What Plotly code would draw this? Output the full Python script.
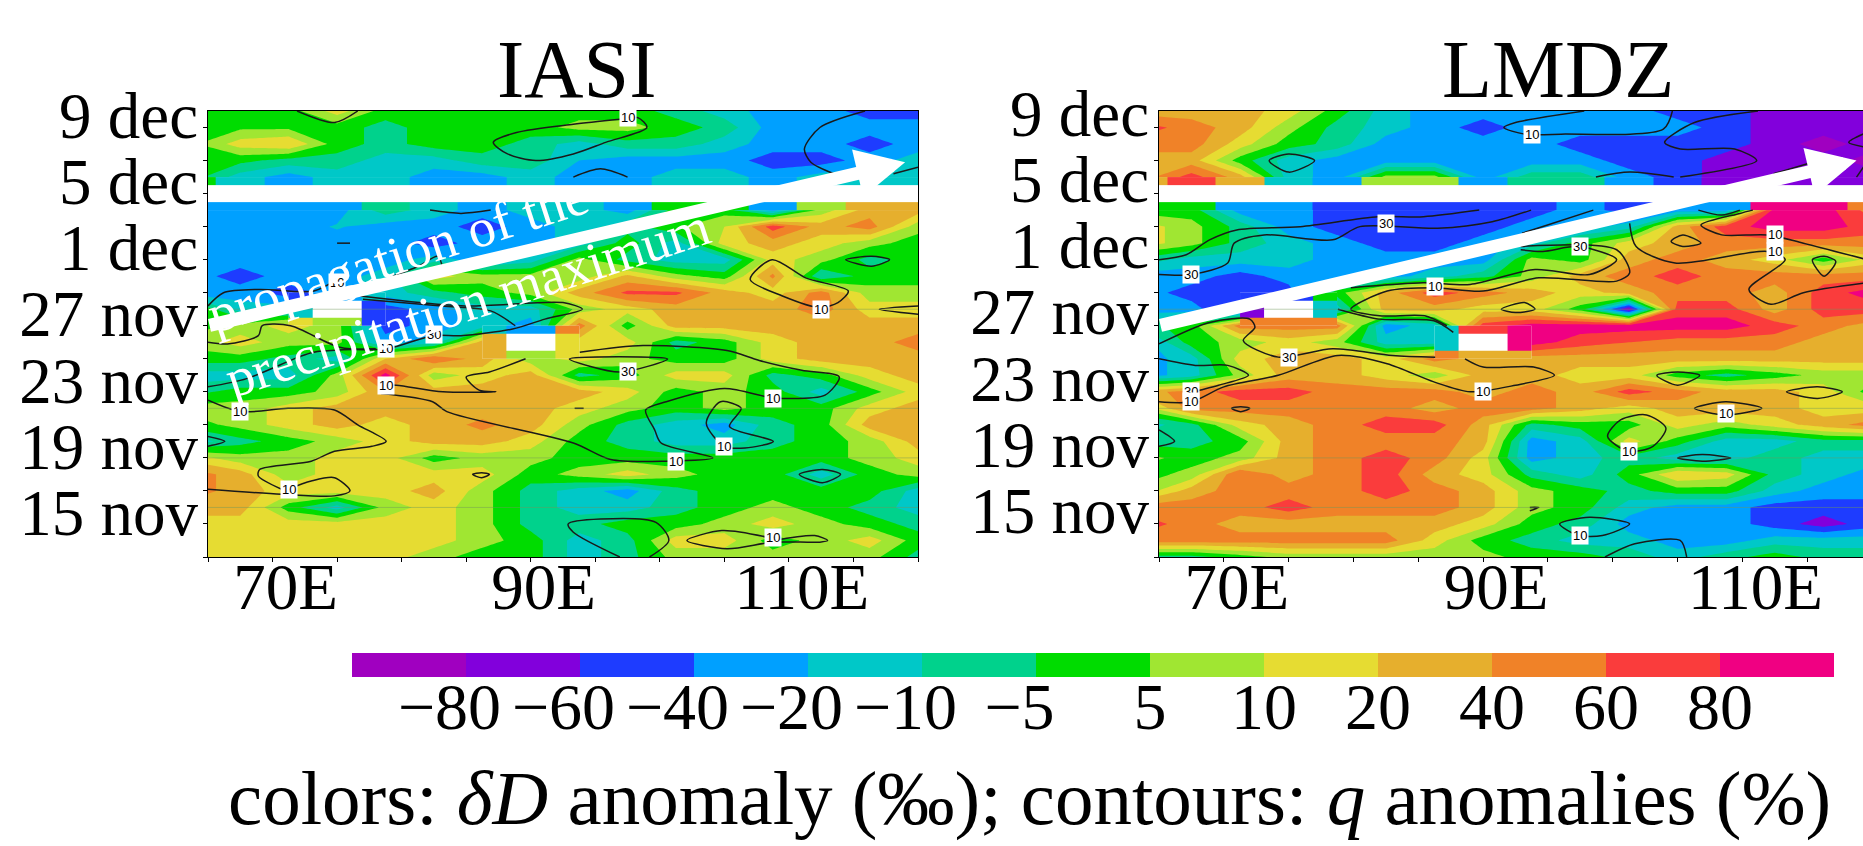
import numpy as np
import plotly.graph_objects as go

N = float("nan")
FONT = "Liberation Serif"

# longitudes of the data grid (deg E) and days (day-of-November numbering: 31 = 1 dec)
lons = [63.75, 67.5, 71.25, 75, 78.75, 82.5, 86.25, 90, 93.75, 97.5, 101.25, 105, 108.75, 112.5, 116.25, 120]
days = [40, 39, 38, 37, 36, 35, 34, 33, 32, 31, 30, 29, 28, 27, 26, 25, 24, 23, 22, 21, 20, 19, 18, 17, 16, 15, 14, 13]

level_values = [-80, -60, -40, -20, -10, -5, 5, 10, 20, 40, 60, 80]
level_labels = ["−80", "−60", "−40", "−20", "−10", "−5", "5", "10", "20", "40", "60", "80"]
level_colors = ["#a000c0", "#8200dc", "#1e3cff", "#00a0ff", "#00c8c8", "#00d28c", "#00dc00",
                "#a0e632", "#e6dc32", "#e6af2d", "#f08228", "#fa3c3c", "#f00082"]

y_tick_days = [13, 15, 17, 19, 21, 23, 25, 27, 29, 31, 33, 35, 37, 39]
y_tick_text = ["", "15 nov", "", "19 nov", "", "23 nov", "", "27 nov", "", "1 dec", "", "5 dec", "", "9 dec"]
x_tick_lons = [65, 70, 75, 80, 85, 90, 95, 100, 105, 110, 115, 120]
x_tick_text = ["", "70E", "", "", "", "90E", "", "", "", "110E", "", ""]

iasi_dd = [
    [0, 0, 0, 15, 0, 0, 0, 0, 0, 0, -7, -15, -30, -30, -50, -50],
    [0, 3, 3, 0, -7, 0, 0, 0, 7, 7, 0, -7, -30, -30, -30, -30],
    [3, 15, 20, 0, -7, 0, 0, -7, -15, -7, -7, -15, -30, -30, -50, -30],
    [0, -2, -7, -7, -15, -15, -7, -7, -20, -30, -30, -30, -50, -50, -30, -15],
    [0, -15, -30, -15, -15, -30, -30, -15, -30, -30, -15, -15, -30, -15, -15, -15],
    [N, N, N, N, N, N, N, N, N, N, N, N, N, N, N, N],
    [-30, -30, -30, -30, -7, -15, -30, -15, -15, -30, 0, 0, -30, 7, 30, 30],
    [-30, -30, -30, -19, -30, -30, -50, -30, -15, -7, 3, 10, 70, 30, 50, 7],
    [-30, -30, -30, -30, -30, -50, -30, -30, -15, 0, -15, 15, 30, 15, 7, 0],
    [-30, -30, -30, -30, -30, -15, -30, -15, 7, -7, -15, -15, 15, 7, -7, 0],
    [-30, -50, -30, -30, -15, 15, 7, 7, 7, 25, 7, 0, 45, -10, 0, 0],
    [-30, -30, -50, -30, -15, -7, 0, 7, 30, 65, 65, 30, 15, 50, 7, 7],
    [7, -15, -15, N, -50, -30, -15, -15, 7, 15, 30, 30, 30, 50, 15, 15],
    [0, 7, 15, 7, -50, -30, -15, -30, 50, 0, 30, 30, 30, 30, 30, 30],
    [7, 15, 7, 7, -30, -15, 30, N, 15, 15, -7, 0, 15, 30, 30, 50],
    [0, 0, -7, -15, 20, 60, 30, 7, 15, 7, 0, 0, 15, 30, 30, 30],
    [-15, -15, -15, 7, 90, 7, 15, 30, -7, 0, 15, 15, -7, 0, 15, 30],
    [-7, 0, 0, 7, 40, 30, 30, 30, 30, 15, 0, 7, 0, -15, 0, 15],
    [7, 7, 15, 30, 30, 30, 30, 30, 15, 7, 0, 7, 0, 0, 15, 30],
    [0, 7, 15, 30, 15, 30, 45, 30, 7, -7, -15, -30, -7, 0, 30, 30],
    [-15, -7, 0, 7, 15, 30, 30, 15, 0, -7, -15, -15, -7, 0, 7, 30],
    [15, 7, 7, 15, 15, 0, 7, 7, 0, 0, 0, 0, 0, 0, 7, 15],
    [50, 30, 7, 15, 15, 15, 15, 0, 7, 15, 7, 0, 0, -15, 0, 7],
    [50, 30, 15, 15, 15, 30, 7, -7, -15, -30, -7, 0, 0, 0, 0, -15],
    [30, 30, 0, -15, 7, 15, 7, -7, -15, -15, -7, 0, 7, 0, -7, -15],
    [15, 15, 15, 15, 15, 15, 7, -7, -7, 0, 0, 7, 15, 7, 0, -7],
    [15, 15, 15, 15, 15, 15, 7, 0, -15, -7, 15, 15, 0, 7, 15, 0],
    [15, 15, 15, 15, 15, 7, 0, 0, -15, -7, 7, 7, 7, 7, 7, -7],
]

lmdz_dd = [
    [30, 30, 30, 15, 0, -15, -30, -30, -30, -30, -30, -50, -50, -70, -70, -70],
    [70, 50, 30, 7, -7, -15, -30, -50, -30, -30, -30, -30, -50, -70, -70, -70],
    [50, 50, 15, 0, -7, -30, -30, -30, -30, -50, -50, -50, -50, -70, -90, -70],
    [30, 30, 0, -15, -30, -30, -30, -30, -30, -30, -50, -50, -70, -70, -70, -90],
    [30, 70, 30, -15, -30, 7, 7, -30, -7, -7, -30, -50, -70, -70, -70, -70],
    [N, N, N, N, N, N, N, N, N, N, N, N, N, N, N, N],
    [0, 0, -30, -30, -50, -50, -50, -50, -50, -30, -50, -30, -30, 90, 90, 50],
    [15, 7, -7, -30, -50, -50, -50, -50, -30, -30, -15, 30, 70, 90, 90, 70],
    [15, 7, -7, -15, -30, -50, -50, -30, -15, 0, 15, 30, 50, 50, 50, 50],
    [-7, -15, -15, -15, -30, -30, -30, -30, 7, 0, 30, 50, 30, 15, 0, 15],
    [-30, -30, -50, -30, -30, -30, -15, -7, 7, 30, 50, 70, 50, 50, 50, 50],
    [-30, -50, -50, -50, 0, 30, 70, 50, 30, 15, 30, 50, 50, 30, 70, 90],
    [-30, -30, -70, N, -15, 30, 30, 15, 15, 0, -80, 70, 70, 30, 70, 70],
    [-7, 0, 50, 50, 50, -30, -15, 70, 90, 90, 90, 90, 90, 70, 50, 30],
    [-30, 0, 7, 15, 7, -15, -15, N, 90, 70, 60, 50, 50, 50, 30, 30],
    [-30, -15, 15, 30, 30, 15, 50, 30, 30, 30, 30, 30, 30, 30, 30, 30],
    [-30, -15, 7, 30, 30, 15, 7, 30, 30, 15, 15, 0, -7, 0, 7, 7],
    [30, 50, 70, 70, 50, 50, 50, 30, 50, 30, 70, 50, 30, 30, 15, 0],
    [7, 50, 50, 50, 50, 50, 30, 50, 50, 30, 15, 30, 30, 30, 15, 15],
    [-15, -7, 15, 30, 50, 70, 70, 30, -7, 0, 0, 15, 7, 15, 30, 50],
    [-7, -7, 0, 30, 50, 50, 50, 30, -30, -15, 15, 0, -15, -15, -7, -7],
    [7, 0, 7, 30, 50, 70, 50, 15, -30, -15, -7, -15, -15, -7, -15, -15],
    [0, 7, 60, 30, 50, 70, 30, 15, -7, -15, 0, 20, 15, -7, -15, -30],
    [7, 30, 50, 50, 50, 70, 50, 30, 7, 0, -7, 0, 0, -15, -30, -30],
    [50, 50, 50, 70, 50, 50, 50, 30, 7, 0, -15, -30, -30, -50, -50, -50],
    [70, 50, 30, 30, 30, 30, 30, 15, 0, -7, -30, -30, -30, -50, -70, -50],
    [50, 50, 50, 50, 50, 50, 15, 0, -7, -15, -15, -30, -30, -15, -15, -15],
    [-7, -7, 0, 7, 7, 7, 7, 7, 0, 0, -7, -15, -7, 0, -7, -7],
]

# q-anomaly contours: (longitudes, days)
iasi_q_lines = [
    ([71.9, 74.8, 76.6], [40, 39.3, 40]),
    ([96.9, 93.3, 88.9, 87.1, 88.2, 90.4, 93.3, 95.8, 99.0, 98.3, 96.9], [39.5, 39.2, 38.7, 38.1, 37.4, 37, 37.4, 38.1, 39, 39.6, 39.5]),
    ([115.9, 112.4, 111.2, 111.7, 113.5], [40, 39, 37.7, 36.9, 36.2]),
    ([118.1, 120], [36.2, 36.6]),
    ([93.3, 95.4, 97.5], [36, 36.5, 36]),
    ([82.2, 84.6, 86.9], [34, 33.8, 34]),
    ([75, 76], [32, 32]),
    ([79, 81.3, 82.8, 83.2], [29.9, 30.6, 31.2, 30.4]),
    ([65, 66.2, 69, 73.2, 75], [28.2, 29, 29.2, 29.1, 29.8]),
    ([76.8, 84.9, 92.5, 94, 91.1, 88.6, 84.6, 82.4, 78.8, 75.2, 71.4, 69.2, 68.9, 66.5, 65],
     [28.8, 28.2, 28.4, 28, 27.4, 26.8, 26.4, 26.4, 25.6, 25.7, 27, 27, 26.4, 25.9, 26]),
    ([77, 83.1, 86.9, 88.8], [28.6, 28.2, 27.9, 27]),
    ([65, 68, 72, 73.2, 78], [23.3, 23.8, 25.1, 25.4, 25.6]),
    ([89.6, 86.8, 85, 86, 87.3, 83.2, 79.6, 78.6], [25, 24.2, 23.9, 23.1, 23, 23, 23.4, 23.4]),
    ([78.4, 82.4, 83.5, 93.3, 96.2, 100.5, 104.1, 100.1, 99.6, 98.9, 100.5, 105, 108.3, 109.5, 112.8, 113.9, 111, 107.7, 105.2, 98.7, 93.8],
     [22.9, 22.4, 21.8, 19.9, 18.9, 18.8, 19, 19.9, 20.7, 21.9, 22.4, 23.2, 22.7, 22.6, 22.8, 23.9, 24.3, 24.9, 25.5, 25.8, 25.4]),
    ([93, 96.9, 100.6, 93], [25, 24.2, 25, 25]),
    ([105, 103.6, 104.7, 106.3, 105.4, 108.8, 106.6, 105], [19.7, 21.1, 22.4, 22, 20.9, 20, 19.6, 19.7]),
    ([110.8, 112.6, 114, 112.6, 110.8], [18, 18.3, 18, 17.5, 18]),
    ([85.5, 86.2, 86.8, 86.2, 85.5], [18, 18.1, 18, 17.8, 18]),
    ([93.4, 94.1], [22, 22]),
    ([65, 67.6, 71.2, 74.8, 76.6, 78.8, 77.7, 74.8, 73, 69, 68.9, 70.7], [22.5, 21.8, 22, 21.9, 21, 20, 19.7, 19.4, 18.8, 18.3, 17.9, 17.1]),
    ([65, 70.7, 74.8, 76, 74.8, 73, 71.2], [17.1, 16.8, 16.7, 17, 17.8, 17.6, 17.1]),
    ([65, 66.3, 65], [20.3, 20, 19.7]),
    ([96.9, 93.3, 92.9, 95.4, 99.7, 100.7, 99.2], [13, 14.5, 15, 15.3, 15.1, 14, 13]),
    ([108.3, 104.8, 102.1, 105.2, 108.8, 112.4, 113, 112, 108.8], [14.2, 14.6, 14, 13.5, 13.9, 13.9, 14, 14.3, 14]),
    ([114.4, 116.4, 117.8, 116.4, 114.4], [31, 31.2, 31, 30.6, 31]),
    ([112.4, 109.5, 107, 108.7, 111.3, 114.6, 113.8, 112.4], [28.1, 28.8, 29.8, 31, 29.9, 29.1, 28.4, 28.1]),
    ([120, 117, 120], [28.2, 28, 27.7]),
]

lmdz_q_lines = [
    ([97.8, 92.5, 91.6, 93.2, 96, 103.9, 104.6], [40, 39.3, 39, 38.6, 38.6, 38.9, 40]),
    ([73.5, 75, 77, 75, 73.5], [37, 37.4, 37, 36.3, 37]),
    ([111.2, 106.3, 104, 105.2, 109.4, 111.1, 105.2], [40, 39.3, 38.1, 37.7, 37.7, 37, 36]),
    ([98.7, 101.3, 104.7], [36, 36.3, 36]),
    ([112.4, 115.4], [36.2, 36.9]),
    ([119.6, 118.2, 119.6], [38.7, 38.1, 37.8]),
    ([118.8, 119.6], [36, 36.9]),
    ([65, 67.1, 68.9, 71, 75.9, 81.9, 85.4, 89.7], [31, 31.3, 32.2, 32.8, 33, 33.6, 33.6, 34]),
    ([65, 67.5, 70.3, 70.8, 73.1, 78.4, 80.5, 86.5, 90.7, 93.7], [30.1, 30.1, 30.8, 32, 32.5, 32.2, 33, 32.9, 33.3, 34]),
    ([93, 98.5], [32.6, 34]),
    ([92.9, 94.6, 97.4, 100.3, 98.2, 94, 89, 85.4, 79.8], [31.6, 31.5, 31.8, 31, 30.1, 30.4, 29.5, 29.6, 29.3]),
    ([101.3, 101.8, 104.8, 111.9, 113.3, 110.5, 112.2, 114.7, 119.6], [33.2, 31.8, 30.8, 31.5, 31, 29.2, 28.3, 29, 29.6]),
    ([92.9, 100.3, 101.3, 100.3, 94.3, 90, 86.2, 82.6, 79.8, 82, 85.5, 87.2], [31.8, 31.6, 30.2, 29.7, 29.9, 29.1, 29.3, 29.1, 28, 27.6, 27.6, 27]),
    ([78.8, 82, 86.2, 87.7], [28, 27.4, 27.3, 26.6]),
    ([91.4, 93.2, 94, 92.5, 91.4], [28, 28.4, 28, 27.8, 28]),
    ([104.5, 105.4, 106.8, 105.4, 104.5], [32.1, 32.5, 32, 31.8, 32.1]),
    ([110.8, 109.8, 106.8, 108.4, 111.9, 114.7, 119.6], [34, 33.8, 33.1, 32.5, 32.5, 32, 31]),
    ([106.6, 108.4, 109.8], [34, 33.7, 34]),
    ([115.4, 116.3, 117.2, 116.3, 115.4], [31, 31.2, 30.9, 30, 31]),
    ([65, 68.9, 72, 72.4, 71.5, 74.2, 78.4, 83, 86.3], [25.9, 27.2, 27.4, 26.9, 26.1, 25.1, 25.6, 25.2, 25.1]),
    ([65, 67.8, 70.3, 71.9, 69.6, 67.1], [25, 24.6, 24.6, 24, 23.4, 22.9]),
    ([65, 67.5, 70, 74.2, 78.8, 82.6, 86.2, 89, 92.5, 95.5, 93.9, 90, 88.6], [22.4, 22.4, 23.3, 24, 25.2, 24.7, 23.6, 23, 23.4, 24, 24.5, 24.5, 25]),
    ([70.6, 71.3, 72, 71.3, 70.6], [22, 22.1, 22, 21.8, 22]),
    ([103.4, 105, 106.7, 105, 103.4], [24, 24.2, 24, 23.4, 24]),
    ([113.4, 115.8, 117.7, 115.8, 113.4], [23, 23.3, 23, 22.6, 23]),
    ([106.3, 108.7, 111.5, 108.7, 106.3], [22, 22.4, 22, 21.6, 22]),
    ([99.6, 100.6, 102.6, 104.1, 103.1, 101.2, 99.6], [20.3, 21.3, 21.6, 20.8, 19.7, 19.4, 20.3]),
    ([105, 106.9, 109.1, 106.9, 105], [19, 19.2, 19, 18.8, 19]),
    ([65, 66.2, 65], [20.7, 20, 19.7]),
    ([93.6, 94.3, 93.6], [16, 16, 15.8]),
    ([95.9, 98.2, 101.3, 99.2, 97.4, 95.9], [15, 15.4, 15, 14.3, 14.3, 15]),
    ([99.4, 101.7, 105.2, 105.7], [13, 13.8, 14, 13]),
]

iasi_q_labels = [(97.5, 39.6, "10"), (112.5, 28, "10"), (82.5, 26.5, "30"), (78.75, 25.6, "10"), (97.5, 24.2, "30"),
                 (78.75, 23.4, "10"), (108.75, 22.6, "10"), (67.5, 21.8, "10"), (105, 19.7, "10"), (101.25, 18.8, "10"),
                 (71.25, 17.1, "10"), (108.75, 14.2, "10"), (75, 29.6, "10")]
lmdz_q_labels = [(93.75, 38.6, "10"), (82.5, 33.2, "30"), (97.5, 31.8, "30"), (112.5, 32.5, "10"), (112.5, 31.5, "10"),
                 (67.5, 30.1, "30"), (86.25, 29.4, "10"), (75, 25.1, "30"), (67.5, 23, "30"), (67.5, 22.4, "10"),
                 (90, 23, "10"), (108.75, 21.7, "10"), (101.25, 19.4, "10"), (97.5, 14.3, "10")]

seam_days = [28, 22, 19, 16]

W, H = 1863, 846
ticks_idx = list(range(1, 13))


def to_index(a):
    a = np.array(a, dtype=float)
    out = np.interp(a, level_values, ticks_idx)
    out = np.where(a < level_values[0], (a + 100) / 20, out)
    out = np.where(a > level_values[-1], 12 + (a - 80) / 20, out)
    return np.where(np.isnan(a), np.nan, out)


n = len(level_colors)
step_scale = []
for i, c in enumerate(level_colors):
    step_scale += [[i / n, c], [(i + 1) / n, c]]
white_scale = [[0, "white"], [1, "white"]]


def add_panel(fig, field, lines, col, over):
    """Filled contours on the base axes; gap blocks and q lines on overlaid axes so they sit above the fill."""
    z = to_index(field)
    xa, ya = ("x", "y") if col == 1 else ("x2", "y2")
    xo, yo = over
    fig.add_trace(go.Contour(x=lons, y=days[::-1], z=z[::-1], xaxis=xa, yaxis=ya, zmin=0, zmax=13,
                             autocontour=False, contours=dict(start=1, end=12, size=1, coloring="fill", showlines=False),
                             line=dict(width=0, smoothing=0), colorscale=step_scale, showscale=False,
                             connectgaps=False, hoverinfo="skip"))
    for r in range(z.shape[0]):
        for c in range(z.shape[1]):
            if np.isnan(z[r, c]):
                if not np.isnan(z[r]).all():
                    xe = [lons[c] - 3.75, lons[c] - 1.875, lons[c] + 1.875, lons[c] + 3.75]
                    block = z[r - 1:r + 2, c - 1:c + 2][::-1]
                else:
                    if c > 0:
                        continue
                    xe = [lons[0] - 1.875] + [v + 1.875 for v in lons]
                    block = z[r - 1:r + 2][::-1]
                d = days[r]
                ye = [d - 1, d - 0.5, d + 0.5, d + 1]
                fig.add_trace(go.Heatmap(x=[xe[0], xe[-1]], y=[ye[0], ye[-1]], z=[[1]], xaxis=xo, yaxis=yo,
                                         colorscale=white_scale, showscale=False, hoverinfo="skip", zsmooth=False))
                fig.add_trace(go.Heatmap(x=xe, y=ye, z=block, xaxis=xo, yaxis=yo, zmin=0, zmax=13,
                                         colorscale=step_scale, showscale=False, hoverinfo="skip", zsmooth=False))
    for lx, ly in lines:
        fig.add_trace(go.Scatter(x=lx, y=ly, xaxis=xo, yaxis=yo, mode="lines", hoverinfo="skip", showlegend=False,
                                 line=dict(color="#1a1a1a", width=1.5, shape="spline", smoothing=0.8)))


fig = go.Figure()
add_panel(fig, iasi_dd, iasi_q_lines, 1, ("x3", "y3"))
add_panel(fig, lmdz_dd, lmdz_q_lines, 2, ("x4", "y4"))

# colour key on its own axes: one cell per colour, labels at the level boundaries
key_edges = list(range(0, n + 1))
fig.add_trace(go.Heatmap(x=key_edges, y=[0, 1], z=[[i + 0.5 for i in range(n)]], xaxis="x5", yaxis="y5", zmin=0, zmax=13,
                         colorscale=step_scale, showscale=False, hoverinfo="skip", zsmooth=False))

axis_common = dict(showgrid=False, zeroline=False, showline=True, linecolor="black", linewidth=1, mirror=True,
                   ticks="outside", ticklen=4, tickwidth=1, tickcolor="black", tickmode="array", automargin=False,
                   tickfont=dict(family=FONT, size=65, color="black"))
hidden = dict(visible=False, showgrid=False, zeroline=False, automargin=False)

top, bottom = 111, 557
dom_y = [1 - bottom / H, 1 - top / H]
dom_x1 = [208 / W, 918 / W]
dom_x2 = [1159 / W, 1]
range_x2 = [65, 119.3]
fig.update_layout(
    width=W, height=H, margin=dict(l=0, r=0, t=0, b=0, autoexpand=False), paper_bgcolor="white", plot_bgcolor="white", showlegend=False,
    xaxis=dict(domain=dom_x1, range=[65, 120], tickvals=x_tick_lons, ticktext=x_tick_text, anchor="y",
               ticklabelshift=13, ticklabelstandoff=-31, **axis_common),
    yaxis=dict(domain=dom_y, range=[13, 40], tickvals=y_tick_days, ticktext=y_tick_text, anchor="x",
               ticklabelshift=-12, ticklabelstandoff=-8, **axis_common),
    xaxis2=dict(domain=dom_x2, range=range_x2, tickvals=x_tick_lons, ticktext=x_tick_text, anchor="y2",
                ticklabelshift=13, ticklabelstandoff=-31, **axis_common),
    yaxis2=dict(domain=dom_y, range=[13, 40], tickvals=y_tick_days, ticktext=y_tick_text, anchor="x2",
                ticklabelshift=-14, ticklabelstandoff=-8, **axis_common),
    xaxis3=dict(domain=dom_x1, range=[65, 120], overlaying="x", anchor="y3", **hidden),
    yaxis3=dict(domain=dom_y, range=[13, 40], overlaying="y", anchor="x3", **hidden),
    xaxis4=dict(domain=dom_x2, range=range_x2, overlaying="x2", anchor="y4", **hidden),
    yaxis4=dict(domain=dom_y, range=[13, 40], overlaying="y2", anchor="x4", **hidden),
    xaxis5=dict(domain=[352 / W, 1834 / W], range=[0, n], anchor="y5", showgrid=False, zeroline=False, showline=False,
                ticks="", tickmode="array", tickvals=ticks_idx, automargin=False, tickangle=0,
                ticktext=[t + "\u00a0\u00a0" if t.startswith("−") else t for t in level_labels],
                ticklabelstandoff=-15, tickfont=dict(family=FONT, size=66, color="black")),
    yaxis5=dict(domain=[1 - 677 / H, 1 - 653 / H], range=[0, 1], anchor="x5", visible=False, automargin=False),
)

for d in seam_days:
    for xa, ya in (("x", "y"), ("x2", "y2")):
        fig.add_shape(type="line", xref=f"{xa} domain", yref=ya, x0=0, x1=1, y0=d, y1=d,
                      line=dict(color="rgba(110,150,90,0.45)", width=1))

ann = []
for labels, xa, ya in ((iasi_q_labels, "x", "y"), (lmdz_q_labels, "x2", "y2")):
    for lx, ly, t in labels:
        ann.append(dict(x=lx, y=ly, xref=xa, yref=ya, text=t, showarrow=False, bgcolor="white", borderpad=1,
                        font=dict(family="Liberation Sans", size=13, color="black")))

for t, cx in (("IASI", 576), ("LMDZ", 1558)):
    ann.append(dict(x=cx / W, y=1 - 99 / H, xref="paper", yref="paper", text=t, showarrow=False, xanchor="center",
                    yanchor="bottom", yshift=-18, font=dict(family=FONT, size=82, color="black")))

ann.append(dict(x=1029 / W, y=1 - 798 / H, xref="paper", yref="paper", showarrow=False, xanchor="center", yanchor="middle",
                text="colors: <i>δD</i> anomaly (‰); contours: <i>q</i> anomalies (%)",
                font=dict(family=FONT, size=77, color="black")))

ann.append(dict(x=398 / W, y=1 - 255 / H, xref="paper", yref="paper", text="propagation of the", showarrow=False,
                xanchor="center", yanchor="middle", textangle=-18, font=dict(family=FONT, size=54, color="white")))
ann.append(dict(x=467 / W, y=1 - 303 / H, xref="paper", yref="paper", text="precipitation maximum", showarrow=False,
                xanchor="center", yanchor="middle", textangle=-18, font=dict(family=FONT, size=54, color="white")))

ann.append(dict(x=119, y=36.9, ax=65, ay=27, xref="x", yref="y", axref="x", ayref="y", text="", showarrow=True,
                arrowhead=2, arrowsize=0.75, arrowwidth=13, arrowcolor="white", standoff=0))
ann.append(dict(x=118.8, y=37, ax=65, ay=27, xref="x2", yref="y2", axref="x2", ayref="y2", text="", showarrow=True,
                arrowhead=2, arrowsize=0.75, arrowwidth=13, arrowcolor="white", standoff=0))

fig.update_layout(annotations=ann)
fig.write_html("out.html", config={"displayModeBar": False}, post_script="document.body.style.margin='0';")
